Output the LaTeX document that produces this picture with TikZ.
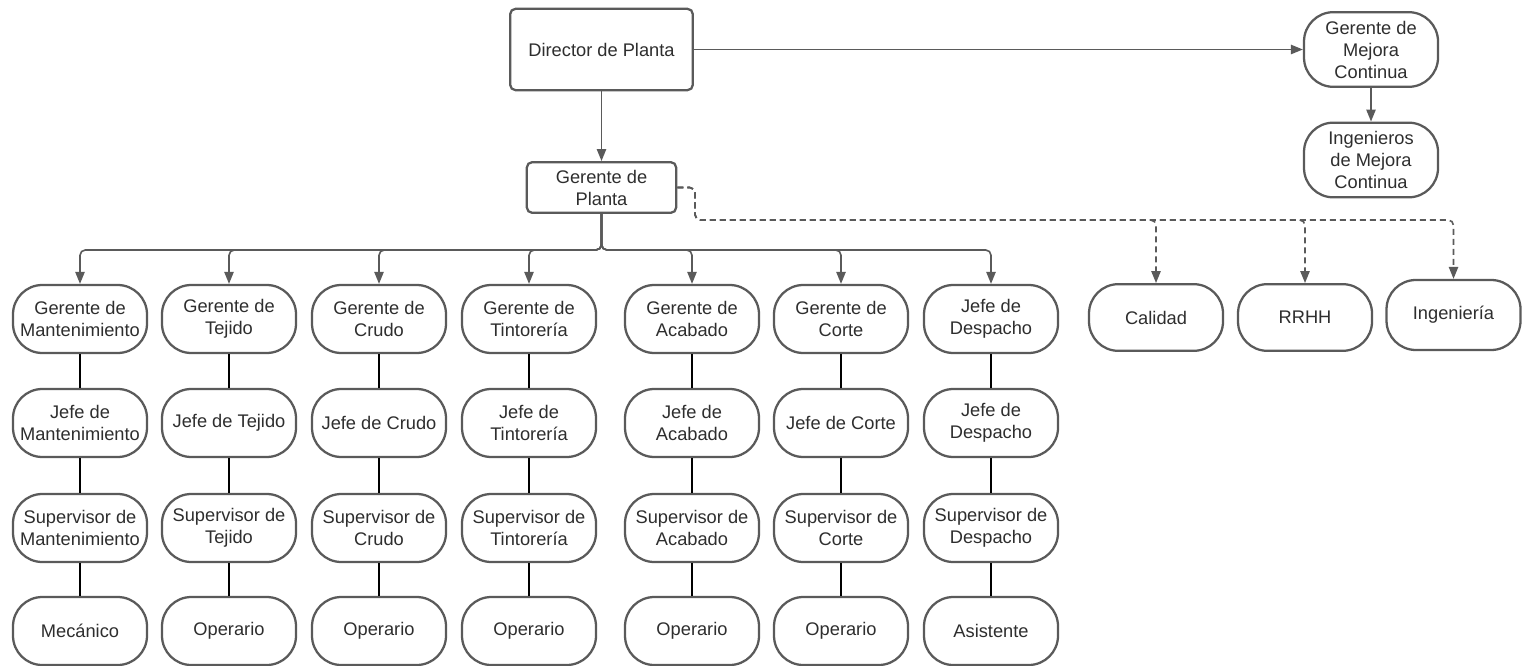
\documentclass[tikz,border=0pt]{standalone}
\usepackage{fontspec}
\setmainfont{Liberation Sans}
\usetikzlibrary{arrows.meta,calc}
\definecolor{linea}{HTML}{5A5A5A}
\definecolor{texto}{HTML}{2E2E2E}
\newcommand{\fuente}{\fontsize{13.7}{16.5}\selectfont}
\tikzset{
    caja/.style={draw=linea, line width=1.7pt, rounded corners=22pt, fill=white,
                 minimum width=100.5pt, minimum height=51pt, inner sep=0pt,
                 align=center, text=texto, font=\fuente},
    cajarecta/.style={caja, rounded corners=4pt},
    flecha/.style={draw=linea, line width=1.2pt, rounded corners=4pt,
                   -{Triangle[length=9pt,width=7pt]}},
    punteada/.style={flecha, dash pattern=on 4.5pt off 3pt},
    enlace/.style={draw=black, line width=1.5pt}
}
\begin{document}
\begin{tikzpicture}[x=0.75pt,y=-0.75pt]
\useasboundingbox (0,0) rectangle (1526,666);

%---------------------------------------------------------------------------------------- DIRECCION
\node[cajarecta, minimum width=137pt, minimum height=61pt] (dir) at (601.5,49.5) {Director de Planta};
\node[cajarecta, minimum width=112pt, minimum height=38pt] (gpl) at (601.5,187.5) {Gerente de\\Planta};

%---------------------------------------------------------------------------------------- MEJORA CONTINUA
\node[caja, minimum height=56pt] (gmc) at (1371,49.5) {Gerente de\\Mejora\\Continua};
\node[caja, minimum height=56pt] (imc) at (1371,160) {Ingenieros\\de Mejora\\Continua};

%---------------------------------------------------------------------------------------- AREAS DE APOYO
\node[caja, minimum height=50pt] (cal) at (1156,317.5) {Calidad};
\node[caja, minimum height=50pt] (rrhh) at (1305,317.5) {RRHH};
\node[caja, minimum height=52.5pt] (ing) at (1453.5,315) {Ingeniería};
\coordinate (quiebre) at (695,220);   %------------------------------------------------- esquina punteada

%---------------------------------------------------------------------------------------- MANTENIMIENTO
\node[caja] (gman) at (80,319) {Gerente de\\Mantenimiento};
\node[caja] (jman) at (80,423) {Jefe de\\Mantenimiento};
\node[caja] (sman) at (80,528) {Supervisor de\\Mantenimiento};
\node[caja] (mec) at (80,631) {Mecánico};

%---------------------------------------------------------------------------------------- TEJIDO
\node[caja] (gtej) at (229,319) {Gerente de\\Tejido};
\node[caja] (jtej) at (229,423) {Jefe de Tejido};
\node[caja] (stej) at (229,528) {Supervisor de\\Tejido};
\node[caja] (otej) at (229,631) {Operario};

%---------------------------------------------------------------------------------------- CRUDO
\node[caja] (gcru) at (379,319) {Gerente de\\Crudo};
\node[caja] (jcru) at (379,423) {Jefe de Crudo};
\node[caja] (scru) at (379,528) {Supervisor de\\Crudo};
\node[caja] (ocru) at (379,631) {Operario};

%---------------------------------------------------------------------------------------- TINTORERIA
\node[caja] (gtin) at (529,319) {Gerente de\\Tintorería};
\node[caja] (jtin) at (529,423) {Jefe de\\Tintorería};
\node[caja] (stin) at (529,528) {Supervisor de\\Tintorería};
\node[caja] (otin) at (529,631) {Operario};

%---------------------------------------------------------------------------------------- ACABADO
\node[caja] (gaca) at (692,319) {Gerente de\\Acabado};
\node[caja] (jaca) at (692,423) {Jefe de\\Acabado};
\node[caja] (saca) at (692,528) {Supervisor de\\Acabado};
\node[caja] (oaca) at (692,631) {Operario};

%---------------------------------------------------------------------------------------- CORTE
\node[caja] (gcor) at (841,319) {Gerente de\\Corte};
\node[caja] (jcor) at (841,423) {Jefe de Corte};
\node[caja] (scor) at (841,528) {Supervisor de\\Corte};
\node[caja] (ocor) at (841,631) {Operario};

%---------------------------------------------------------------------------------------- DESPACHO
\node[caja] (gdes) at (991,319) {Jefe de\\Despacho};
\node[caja] (jdes) at (991,423) {Jefe de\\Despacho};
\node[caja] (sdes) at (991,528) {Supervisor de\\Despacho};
\node[caja] (ades) at (991,631) {Asistente};

%---------------------------------------------------------------------------------------- FLECHAS
\draw[flecha] (dir) -- (gpl);
\draw[flecha] (dir) -- (gmc);
\draw[flecha] (gmc) -- (imc);

\draw[flecha] (gpl.south) -- ++(0,36) -| (gman.north);   %-------------------------- ramal gerentes
\draw[flecha] (gpl.south) -- ++(0,36) -| (gtej.north);
\draw[flecha] (gpl.south) -- ++(0,36) -| (gcru.north);
\draw[flecha] (gpl.south) -- ++(0,36) -| (gtin.north);
\draw[flecha] (gpl.south) -- ++(0,36) -| (gaca.north);
\draw[flecha] (gpl.south) -- ++(0,36) -| (gcor.north);
\draw[flecha] (gpl.south) -- ++(0,36) -| (gdes.north);

\draw[punteada] (gpl.east) -| (quiebre) -| (cal.north);   %------------------------- ramal apoyo
\draw[punteada] (gpl.east) -| (quiebre) -| (rrhh.north);
\draw[punteada] (gpl.east) -| (quiebre) -| (ing.north);

%---------------------------------------------------------------------------------------- LINEAS DE MANDO
\draw[enlace] (gman) -- (jman) (jman) -- (sman) (sman) -- (mec);
\draw[enlace] (gtej) -- (jtej) (jtej) -- (stej) (stej) -- (otej);
\draw[enlace] (gcru) -- (jcru) (jcru) -- (scru) (scru) -- (ocru);
\draw[enlace] (gtin) -- (jtin) (jtin) -- (stin) (stin) -- (otin);
\draw[enlace] (gaca) -- (jaca) (jaca) -- (saca) (saca) -- (oaca);
\draw[enlace] (gcor) -- (jcor) (jcor) -- (scor) (scor) -- (ocor);
\draw[enlace] (gdes) -- (jdes) (jdes) -- (sdes) (sdes) -- (ades);

\end{tikzpicture}
\end{document}
